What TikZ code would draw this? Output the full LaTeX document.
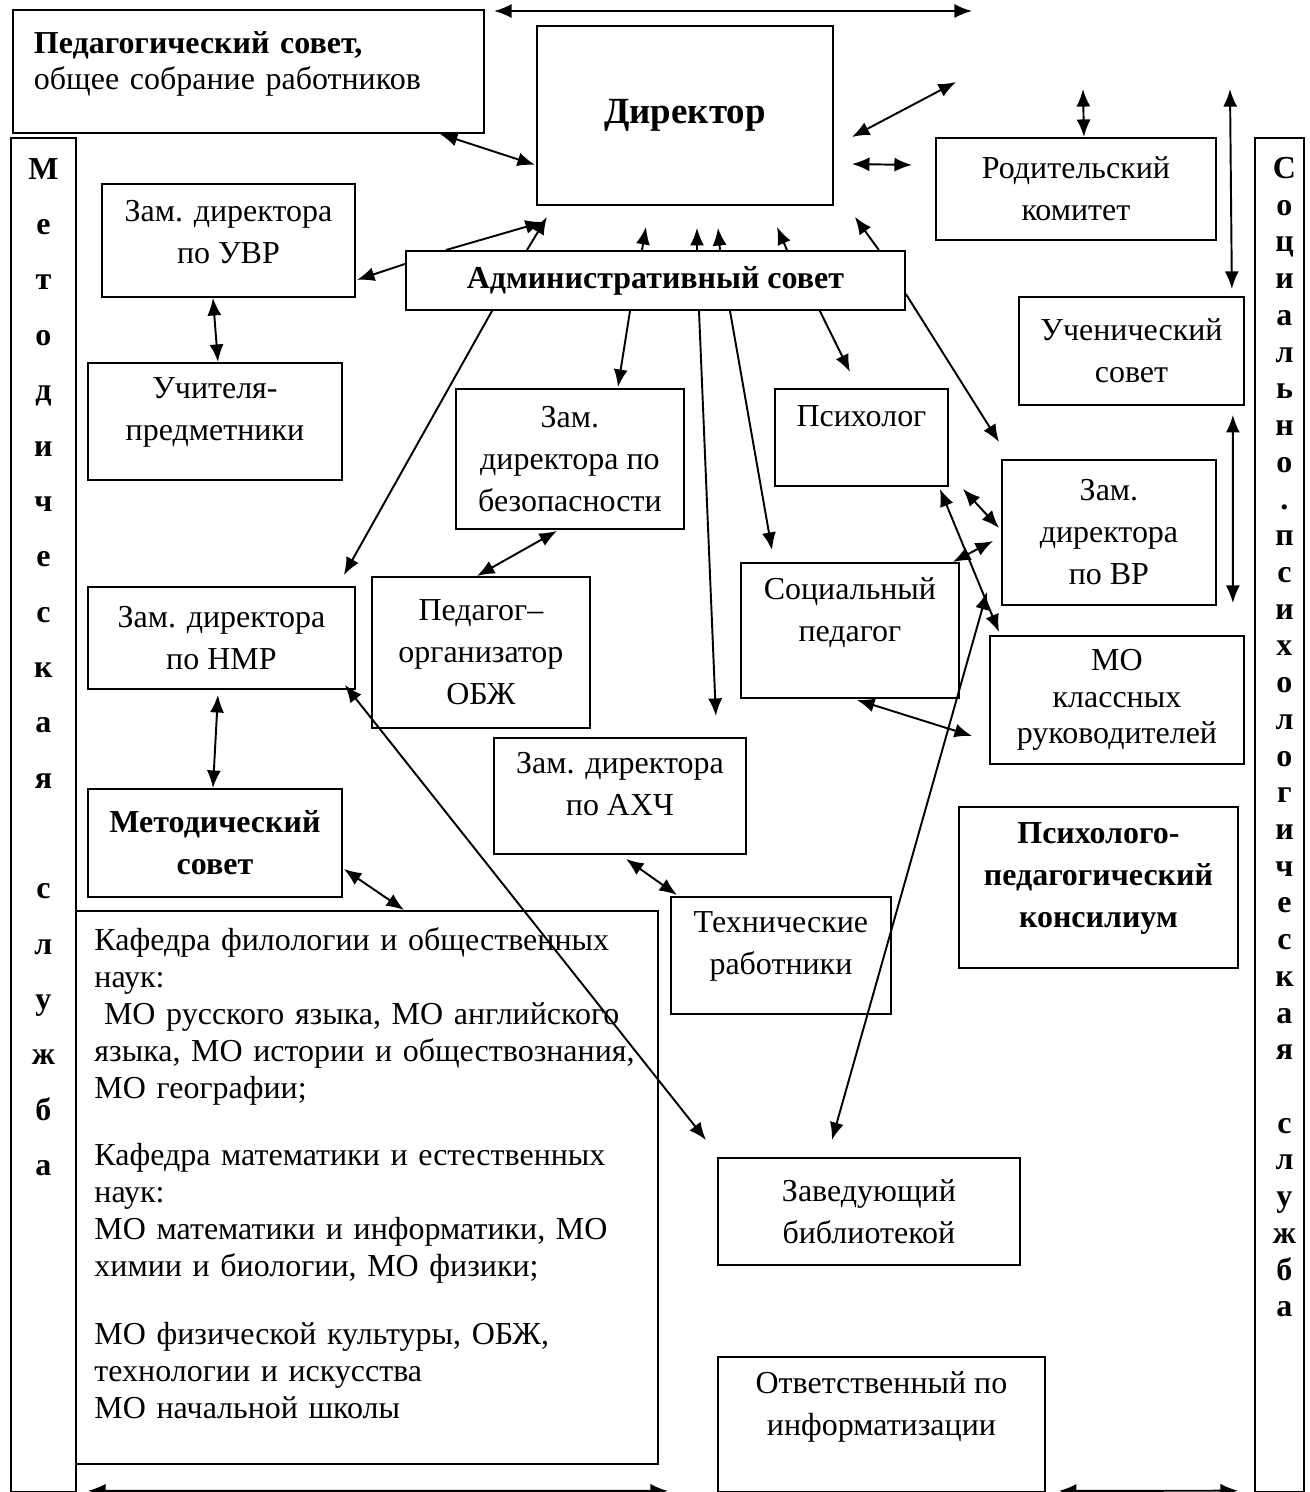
\documentclass[tikz,border=0pt]{standalone}
\usepackage{fontspec}
\setmainfont{Liberation Serif}
\usetikzlibrary{arrows.meta, calc}
\newcommand{\postfont}{\fontsize{18.2pt}{23.9pt}\selectfont}
\newcommand{\listfont}{\fontsize{18.2pt}{21pt}\selectfont}
\newcommand{\headfont}{\fontsize{21pt}{26pt}\selectfont\bfseries}
\tikzset{
  >={Latex[length=10pt,width=8pt]},
  post/.style={draw,line width=1.1pt,anchor=north west,align=center,inner sep=2pt,font=\postfont},
  council/.style={post,font=\postfont\bfseries},
  chief/.style={post,font=\headfont},
  listing/.style={post,align=left,font=\listfont},
  service/.style={draw,line width=1.1pt,anchor=north west,inner sep=0pt},
  letters/.style={anchor=north,align=center,inner sep=0pt},
  relation/.style={line width=1.1pt,->},
  relationx/.style={relation,<->},
}

\begin{document}
\begin{tikzpicture}[x=0.02cm,y=-0.02cm]
	\useasboundingbox (0,0) rectangle (1310,1492);
	\clip (0,0) rectangle (1310,1492);
	\node[listing,text width=8.58cm,inner xsep=0.42cm,minimum height=2.46cm] (PEDS) at (12,9) {\textbf{Педагогический совет,}\\общее собрание работников\\[-0.3cm]\mbox{}};
	\node[chief,minimum width=5.92cm,minimum height=3.58cm] (DIR) at (536,25) {Директор};
	\node[service,minimum width=1.30cm,minimum height=27.08cm] (METHS) at (10,137) {};
	\node[service,minimum width=0.98cm,minimum height=27.08cm] (SOCS) at (1254,137) {};
	\node[letters,font=\fontsize{18.2pt}{31.5pt}\selectfont\bfseries] (METHST) at ($(METHS.north)+(0,21)$) {М\\е\\т\\о\\д\\и\\ч\\е\\с\\к\\а\\я\\[31.5pt]с\\л\\у\\ж\\б\\а};
	\node[letters,font=\fontsize{18.2pt}{20.9pt}\selectfont\bfseries] (SOCST) at ($(SOCS.north)+(5,20)$) {С\\о\\ц\\и\\а\\л\\ь\\н\\о\\.\\п\\с\\и\\х\\о\\л\\о\\г\\и\\ч\\е\\с\\к\\а\\я\\[20.9pt]с\\л\\у\\ж\\б\\а};
	\node[post,minimum width=5.06cm,minimum height=2.26cm] (UVR) at (101,183) {Зам. директора\\по УВР\\[-0.5cm]\mbox{}};
	\node[post,minimum width=5.60cm,minimum height=2.04cm] (PARENT) at (935,137) {Родительский\\комитет};
	\node[council,minimum width=9.98cm,minimum height=1.18cm] (ADM) at (405,250) {Административный совет};
	\node[post,minimum width=4.50cm,minimum height=2.16cm] (STUD) at (1018,296) {Ученический\\совет};
	\node[post,minimum width=5.08cm,minimum height=2.34cm] (TEACH) at (87,362) {Учителя-\\предметники\\[-0.34cm]\mbox{}};
	\node[post,minimum width=4.56cm,minimum height=2.80cm] (SAFE) at (455,388) {Зам.\\директора по\\безопасности};
	\node[post,minimum width=3.46cm,minimum height=1.94cm] (PSY) at (774,388) {Психолог\\\mbox{}};
	\node[post,minimum width=4.28cm,minimum height=2.90cm] (VR) at (1001,459) {Зам.\\директора\\по ВР};
	\node[post,minimum width=4.36cm,minimum height=2.70cm] (SOC) at (740,562) {Социальный\\педагог\\\mbox{}};
	\node[post,minimum width=4.36cm,minimum height=3.02cm] (OBZH) at (371,576) {Педагог–\\организатор\\ОБЖ};
	\node[post,minimum width=5.34cm,minimum height=2.04cm] (NMR) at (87,586) {Зам. директора\\по НМР};
	\node[post,font=\listfont,minimum width=5.08cm,minimum height=2.56cm] (MOKR) at (989,635) {МО\\классных\\руководителей};
	\node[post,minimum width=5.04cm,minimum height=2.32cm] (AHCH) at (493,737) {Зам. директора\\по АХЧ\\[-0.34cm]\mbox{}};
	\node[council,minimum width=5.08cm,minimum height=2.16cm] (METH) at (87,788) {Методический\\совет};
	\node[council,minimum width=5.58cm,minimum height=3.22cm] (PPK) at (958,806) {Психолого-\\педагогический\\консилиум\\[-0.34cm]\mbox{}};
	\node[listing,text width=10.9cm,inner xsep=0.37cm,minimum height=11.06cm] (CHAIRS) at (75,910) {Кафедра филологии и общественных\\наук:\\\hspace{0.3em}МО русского языка, МО английского\\языка, МО истории и обществознания,\\МО географии;\\[0.62cm]Кафедра математики и естественных\\наук:\\МО математики и информатики, МО\\химии и биологии, МО физики;\\[0.62cm]МО физической культуры, ОБЖ,\\технологии и искусства\\МО начальной школы\\[-0.16cm]\mbox{}};
	\node[post,minimum width=4.40cm,minimum height=2.34cm] (TECH) at (670,896) {Технические\\работники\\[-0.34cm]\mbox{}};
	\node[post,minimum width=6.04cm,minimum height=2.14cm] (LIB) at (717,1157) {Заведующий\\библиотекой};
	\node[post,minimum width=6.54cm,minimum height=2.70cm] (INF) at (717,1356) {Ответственный по\\информатизации\\\mbox{}};
	\coordinate (TOPL) at (494,11);
	\coordinate (TOPR) at (972,11);
	\coordinate (DIRNE) at (956,82);
	\coordinate (PARUP) at (1083,89);
	\coordinate (STUDUP) at (1230,89);
	\draw (TOPL) edge[relationx] (TOPR);
	\draw ($(PEDS.south east)+(-45,0)$) edge[relationx] ($(DIR.south west)+(-1,-41)$);
	\draw ($(DIR.north east)+(18,112)$) edge[relationx] (DIRNE);
	\draw ($(DIR.north east)+(18,139)$) edge[relationx] ($(PARENT.west)+(-23,-24)$);
	\draw ($(PARENT.north)+(8,0)$) edge[relationx] (PARUP);
	\draw (STUDUP) edge[relationx] ($(STUD.north east)+(-13,-7)$);
	\draw ($(ADM.west)+(0,-16.5)$) edge[relation] ($(UVR.south east)+(1,-18)$);
	\draw ($(ADM.north west)+(41,0)$) edge[relation] ($(DIR.south west)+(7,16)$);
	\draw ($(ADM.north west)+(122,0)$) edge[relation] ($(DIR.south west)+(11,11)$);
	\draw ($(ADM.north west)+(237,0)$) edge[relation] ($(DIR.south west)+(110,21)$);
	\draw ($(ADM.north west)+(292,0)$) edge[relation] ($(DIR.south west)+(161,22)$);
	\draw ($(ADM.north west)+(315,0)$) edge[relation] ($(DIR.south west)+(182,22)$);
	\draw ($(ADM.north west)+(382,0)$) edge[relation] ($(DIR.south west)+(241,21)$);
	\draw ($(ADM.north east)+(-27,0)$) edge[relation] ($(DIR.south east)+(21,11)$);
	\draw ($(UVR.south)+(-15.5,0)$) edge[relationx] ($(TEACH.north)+(3,0)$);
	\draw ($(ADM.south west)+(87,0)$) edge[relation] ($(NMR.north east)+(-12,-11)$);
	\draw ($(ADM.south west)+(225,0)$) edge[relation] ($(SAFE.north)+(48,-1)$);
	\draw ($(SAFE.south)+(-13,1)$) edge[relationx] ($(OBZH.north)+(-4,0)$);
	\draw ($(ADM.south west)+(294,0)$) edge[relation] ($(AHCH.north east)+(-31,-21)$);
	\draw ($(ADM.south west)+(325,0)$) edge[relation] ($(SOC.north west)+(32,-12)$);
	\draw ($(ADM.south east)+(-86,0)$) edge[relation] ($(PSY.north west)+(76,-16)$);
	\draw ($(ADM.south east)+(0,-17)$) edge[relation] ($(VR.north west)+(-2,-17)$);
	\draw ($(PSY.south east)+(14,2)$) edge[relationx] ($(VR.west)+(-2,-4.5)$);
	\draw ($(SOC.north east)+(-7,0)$) edge[relationx] ($(VR.west)+(-8,8.5)$);
	\draw ($(PSY.south east)+(-9,2)$) edge[relationx] ($(MOKR.north west)+(10,-3)$);
	\draw ($(SOC.south)+(7,1)$) edge[relationx] ($(MOKR.west)+(-17,36)$);
	\draw ($(STUD.south east)+(-12,9)$) edge[relationx] ($(MOKR.north east)+(-12,-32)$);
	\draw ($(VR.south west)+(-14,-14)$) edge[relationx] ($(LIB.north)+(-37,-17)$);
	\draw ($(NMR.south east)+(-11,-5)$) edge[relationx] ($(LIB.north west)+(-11,-17)$);
	\draw ($(NMR.south)+(-3.5,5)$) edge[relationx] ($(METH.north)+(-2,0)$);
	\draw ($(METH.east)+(1,26)$) edge[relationx] ($(CHAIRS.north west)+(329,0)$);
	\draw ($(AHCH.south)+(6,4)$) edge[relationx] ($(TECH.north west)+(7,-1)$);
	\draw ($(CHAIRS.south west)+(13,26)$) edge[relationx] ($(INF.south west)+(-49,-2)$);
	\draw ($(INF.south east)+(13,-2)$) edge[relationx] ($(SOCS.south west)+(-16,-2)$);
\end{tikzpicture}
\end{document}
